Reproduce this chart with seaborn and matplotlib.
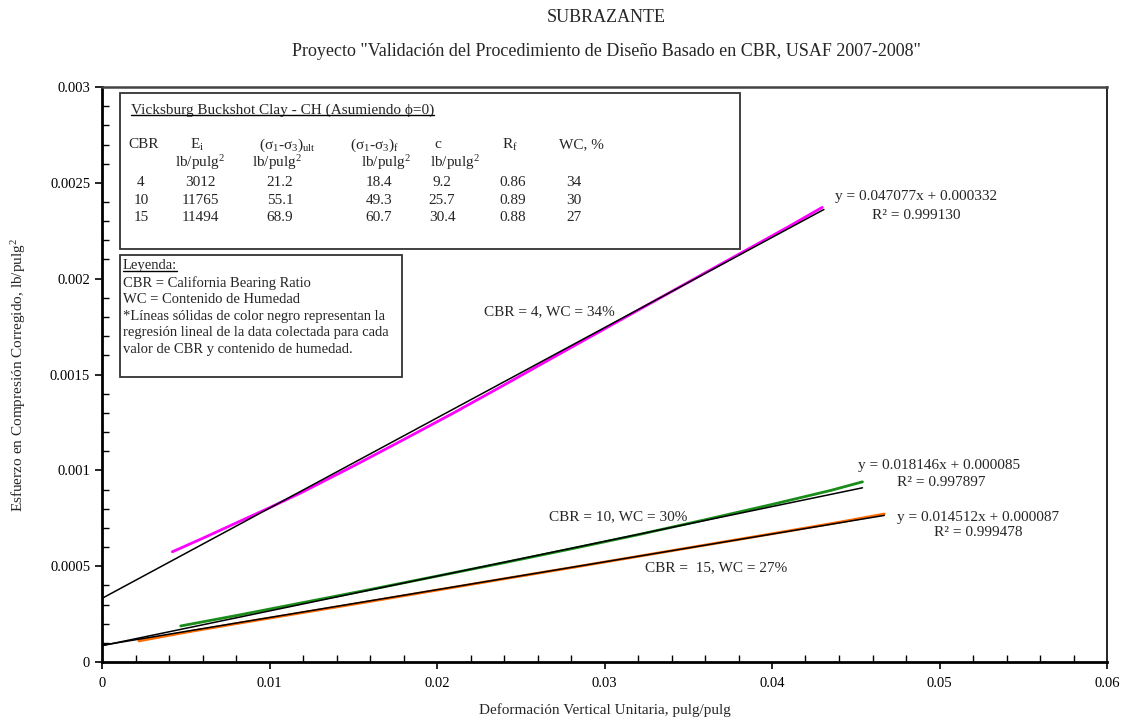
import numpy as np
import pandas as pd
import matplotlib
matplotlib.use("Agg")
import matplotlib.pyplot as plt
from matplotlib.patches import Rectangle
from matplotlib.lines import Line2D
from matplotlib.ticker import MultipleLocator, FuncFormatter
import seaborn as sns

# ---------------- data ----------------
x_cbr4 = [0.0042, 0.006, 0.008, 0.010, 0.012, 0.015, 0.018, 0.021, 0.024, 0.027,
          0.030, 0.033, 0.036, 0.039, 0.041, 0.043]
y_cbr4 = [0.000575, 0.000645, 0.000725, 0.000805, 0.000888, 0.001022, 0.001160,
          0.001300, 0.001445, 0.001592, 0.001738, 0.001884, 0.002030, 0.002175,
          0.002272, 0.002372]
x_cbr10 = [0.0047, 0.008, 0.012, 0.016, 0.020, 0.024, 0.028, 0.032, 0.036, 0.040,
           0.0435, 0.0454]
y_cbr10 = [0.000188, 0.000242, 0.000310, 0.000378, 0.000448, 0.000518, 0.000590,
           0.000664, 0.000742, 0.000822, 0.000895, 0.000940]
x_cbr15 = [0.0022, 0.005, 0.008, 0.012, 0.016, 0.020, 0.024, 0.028, 0.032, 0.036,
           0.040, 0.044, 0.0467]
y_cbr15 = [0.000110, 0.000155, 0.000200, 0.000258, 0.000316, 0.000375, 0.000434,
           0.000492, 0.000551, 0.000610, 0.000669, 0.000729, 0.000772]

series_names = ["CBR 4", "CBR 10", "CBR 15"]
series_colors = ["#FF00FF", "#1A8C1A", "#FF6A00"]
reg_slope = [0.047077, 0.018146, 0.014512]
reg_intercept = [0.000332, 0.000085, 0.000087]
reg_r2 = ["0.999130", "0.997897", "0.999478"]
reg_x_end = [0.0431, 0.0454, 0.0467]
curve_labels = ["CBR = 4, WC = 34%", "CBR = 10, WC = 30%", "CBR =  15, WC = 27%"]

tab_cbr = ["4", "10", "15"]
tab_ei = ["3012", "11765", "11494"]
tab_ult = ["21.2", "55.1", "68.9"]
tab_f = ["18.4", "49.3", "60.7"]
tab_c = ["9.2", "25.7", "30.4"]
tab_rf = ["0.86", "0.89", "0.88"]
tab_wc = ["34", "30", "27"]

xticks = [0, 0.01, 0.02, 0.03, 0.04, 0.05, 0.06]
yticks = [0, 0.0005, 0.001, 0.0015, 0.002, 0.0025, 0.003]

# ---------------- style ----------------
sns.set_style("ticks")
plt.rcParams["font.family"] = ["Liberation Serif", "DejaVu Serif"]
plt.rcParams["mathtext.fontset"] = "custom"
plt.rcParams["mathtext.rm"] = "Liberation Serif"
plt.rcParams["mathtext.it"] = "Liberation Serif:italic"
plt.rcParams["mathtext.bf"] = "Liberation Serif:bold"

W, H = 1123, 723
fig = plt.figure(figsize=(W / 100, H / 100), dpi=100)
L, R, T, B = 102, 1107, 87, 662
ax = fig.add_axes([L / W, 1 - B / H, (R - L) / W, (B - T) / H])

df = pd.concat([
    pd.DataFrame({"x": xs, "y": ys, "serie": n})
    for xs, ys, n in zip([x_cbr4, x_cbr10, x_cbr15], [y_cbr4, y_cbr10, y_cbr15], series_names)
])
sns.lineplot(data=df, x="x", y="y", hue="serie", palette=dict(zip(series_names, series_colors)),
             sort=False, estimator=None, lw=2.0, legend=False, ax=ax)

reg_rows = []
for n, m, b, xe in zip(series_names, reg_slope, reg_intercept, reg_x_end):
    reg_rows.append(pd.DataFrame({"x": [0.0, xe], "y": [b, m * xe + b], "serie": n}))
reg_df = pd.concat(reg_rows)
sns.lineplot(data=reg_df, x="x", y="y", units="serie", estimator=None, color="black",
             lw=1.1, legend=False, ax=ax)

ax.set_xlim(0, 0.06)
ax.set_ylim(0, 0.003)
ax.set_xticks(xticks)
ax.set_yticks(yticks)
ax.xaxis.set_minor_locator(MultipleLocator(0.002))
ax.yaxis.set_minor_locator(MultipleLocator(0.0001))
fmt = FuncFormatter(lambda v, p: "0" if v == 0 else "%g" % v)
ax.xaxis.set_major_formatter(fmt)
ax.yaxis.set_major_formatter(fmt)
ax.tick_params(which="major", direction="out", length=5, width=1.2, labelsize=10.5, colors="black")
ax.tick_params(which="minor", direction="in", length=5, width=1.0, colors="black")
ax.tick_params(axis="x", pad=6)
for s in ["left", "bottom"]:
    ax.spines[s].set_linewidth(2.0)
    ax.spines[s].set_color("black")
ax.spines["top"].set_linewidth(1.8)
ax.spines["top"].set_color("#444444")
ax.spines["right"].set_linewidth(1.2)
ax.spines["right"].set_color("black")
ax.set_xlabel("Deformación Vertical Unitaria, pulg/pulg", fontsize=11, labelpad=9)
ax.set_ylabel("Esfuerzo en Compresión Corregido, lb/pulg$^2$", fontsize=11, labelpad=16)


def T(xp, yp, s, ha="left", size=11, **kw):
    return fig.text(xp / W, 1 - yp / H, s, ha=ha, va="center", fontsize=size, **kw)


T(606, 17, "SUBRAZANTE", ha="center", size=13)
T(606, 52, 'Proyecto "Validación del Procedimiento de Diseño Basado en CBR, USAF 2007-2008"',
  ha="center", size=13)

# curve annotations
T(549, 312, curve_labels[0], ha="center", size=11)
T(618, 517, curve_labels[1], ha="center", size=11)
T(716, 568, curve_labels[2], ha="center", size=11)
eq_pos = [(835, 197, 916, 215), (858, 465, 941, 482), (897, 517, 978, 533)]
for (ex, ey, rx, ry), m, b, r2 in zip(eq_pos, reg_slope, reg_intercept, reg_r2):
    T(ex, ey, "y = %.6fx + %.6f" % (m, b), size=11)
    T(rx, ry, "R² = " + r2, ha="center", size=11)

# boxes
for (x0, y0, x1, y1) in [(120, 93, 740, 249), (120, 255, 402, 377)]:
    fig.patches.append(Rectangle((x0 / W, 1 - y1 / H), (x1 - x0) / W, (y1 - y0) / H,
                                 transform=fig.transFigure, fill=True, facecolor="white",
                                 edgecolor="#333333", lw=1.3, zorder=3))

ts = 11
underlined = []
underlined.append(T(131, 110, "Vicksburg Buckshot Clay - CH (Asumiendo ϕ=0)", size=ts, zorder=4))
hy = 145
T(128, hy, "CBR", size=ts, zorder=4)
T(197, hy, "E$_\\mathrm{i}$", ha="center", size=ts, zorder=4)
T(259, hy, "(σ$_1$-σ$_3$)$_\\mathrm{ult}$", size=ts, zorder=4)
T(350, hy, "(σ$_1$-σ$_3$)$_\\mathrm{f}$", size=ts, zorder=4)
T(438, hy, "c", ha="center", size=ts, zorder=4)
T(502, hy, "R$_\\mathrm{f}$", size=ts, zorder=4)
T(559, hy, "WC, %", size=ts, zorder=4)
for cx in [200, 277, 386, 455]:
    T(cx, 163, "lb/pulg$^2$", ha="center", size=ts, zorder=4)
row_y = [182, 200, 217]
col_x = [141, 200, 280, 379, 442, 513, 574]
for i, yy in enumerate(row_y):
    vals = [tab_cbr[i], tab_ei[i], tab_ult[i], tab_f[i], tab_c[i], tab_rf[i], tab_wc[i]]
    for cx, v in zip(col_x, vals):
        T(cx, yy, v, ha="center", size=ts, zorder=4)

ls = 10.5
underlined.append(T(123, 266, "Leyenda:", size=ls, zorder=4))
legend_lines = ["CBR = California Bearing Ratio", "WC = Contenido de Humedad",
                "*Líneas sólidas de color negro representan la",
                "regresión lineal de la data colectada para cada",
                "valor de CBR y contenido de humedad."]
for k, s in enumerate(legend_lines):
    T(123, 283 + 16.6 * k, s, size=ls, zorder=4)

fig.canvas.draw()
rend = fig.canvas.get_renderer()
for t in underlined:
    bb = t.get_window_extent(rend)
    yline = bb.y0 + 1.5
    fig.lines.append(Line2D([bb.x0 / W, bb.x1 / W], [yline / H, yline / H],
                            transform=fig.transFigure, color="black", lw=1.0, zorder=5))

fig.savefig("out.png", dpi=100)
